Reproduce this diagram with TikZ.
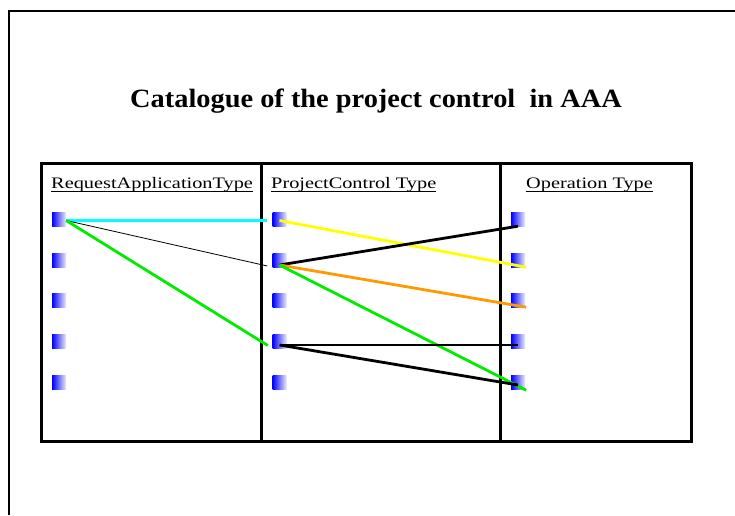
\documentclass[tikz,border=0pt]{standalone}
\usepackage{fontspec}
\setmainfont{Liberation Serif}
\newfontfamily\titlefont[FakeStretch=1.075]{Liberation Serif}
\newfontfamily\headfont[FakeStretch=1.27]{Liberation Serif}
\definecolor{lcyan}{RGB}{0,255,255}
\definecolor{lyellow}{RGB}{255,255,0}
\definecolor{lorange}{RGB}{255,153,0}
\definecolor{lgreen}{RGB}{0,235,0}
\tikzset{
  port/.style={rectangle,minimum size=14pt,inner sep=0pt,left color=blue,right color=blue!8!white},
  head/.style={anchor=base west,inner sep=0pt,font=\headfont\fontsize{16}{19}\selectfont},
  link/.style={line width=2.8pt},
}
\begin{document}
\begin{tikzpicture}[x=1pt,y=1pt]
\useasboundingbox (0,0) rectangle (735,515);
\draw[line width=2pt] (9,0)--(9,504)--(735,504);
\node[font=\titlefont\bfseries\fontsize{26.4}{30}\selectfont,anchor=base] (title) at (376,407) {Catalogue of the project control \ in AAA};
% table
\draw[line width=3pt] (41,74) rectangle (691,352);
\draw[line width=3pt] (261,74)--(261,352);
\draw[line width=3pt] (500,74)--(500,352);
\node[head] (h1) at (51,326.7) {RequestApplicationType};
\node[head] (h2) at (271,326.7) {ProjectControl Type};
\node[head] (h3) at (526,326.7) {Operation Type};
\foreach \h in {h1,h2,h3}
  \draw[line width=0.8pt] ([yshift=-3.4pt]\h.base west)--([yshift=-3.4pt]\h.base east);
\foreach \y [count=\i] in {296,255,215,174,133} {
  \node[port] (r\i) at (59,\y) {};
  \node[port] (p\i) at (279.5,\y) {};
  \node[port] (o\i) at (518,\y) {};
}
% links
\draw[link,lcyan] ([yshift=-1.5pt]r1.east)--([xshift=-5pt,yshift=-1.5pt]p1.west);
\draw[thick] ([yshift=-1.5pt]r1.east)--([xshift=-5pt,yshift=-6pt]p2.west);
\draw[link,lgreen] ([yshift=-1.5pt]r1.east)--([xshift=-4.5pt,yshift=-4.5pt]p4.west);
\draw[link,lyellow] ([yshift=-1.5pt]p1.center)--([xshift=1pt]o2.south east);
\draw[link] ([yshift=-5pt]p2.center)--(o1.south);
\draw[link,lorange] ([yshift=-5pt]p2.center)--([xshift=1pt]o3.south east);
\draw[link,lgreen] ([yshift=-5pt]p2.center)--([xshift=1pt,yshift=-1pt]o5.south east);
\draw[link] ([yshift=-4pt]p4.center)--([yshift=-4pt]o4.center);
\draw[link] ([yshift=-4pt]p4.center)--([yshift=-3pt]o5.center);
\end{tikzpicture}
\end{document}
